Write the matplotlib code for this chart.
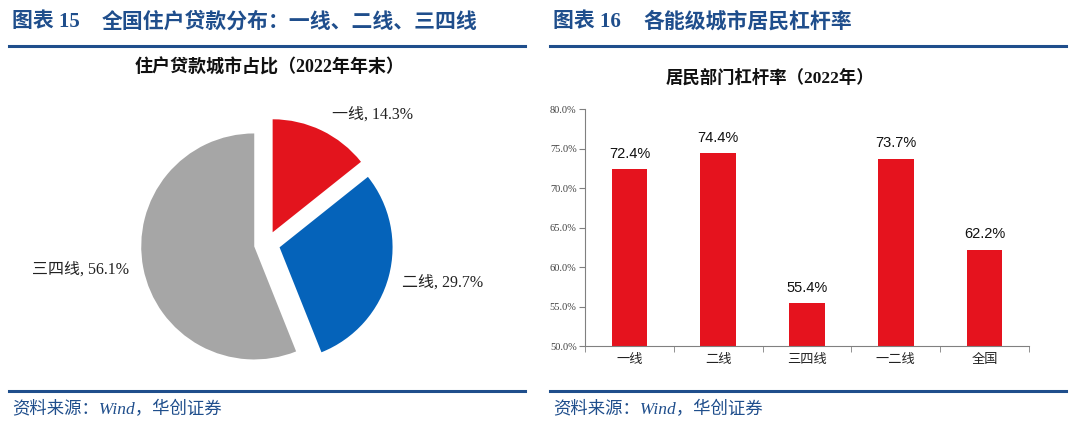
import numpy as np
import matplotlib.pyplot as plt

# pie: loan share by city tier (2022 year end)
pie_labels = ["一线", "二线", "三四线"]
pie_values = [14.3, 29.7, 56.1]
pie_colors = ["#E3141D", "#0563BA", "#A6A6A6"]

# bars: household leverage by tier
bar_cats = ["一线", "二线", "三四线", "一二线", "全国"]
bar_values = [72.4, 74.4, 55.4, 73.7, 62.2]
y_ticks = [50, 55, 60, 65, 70, 75, 80]

W, H = 1080, 430
NAVY = "#1F4E8C"
SERIF = ["Liberation Serif", "Noto Sans CJK SC"]
SANS = ["Liberation Sans", "Noto Sans CJK SC"]

fig = plt.figure(figsize=(W / 100, H / 100), dpi=100)


def fx(px):
    return px / W


def fy(py):
    return 1 - py / H


# headers, rules, source notes
for x0, x1, num, head in [(12, 525, "15", "全国住户贷款分布：一线、二线、三四线"),
                          (553, 1066, "16", "各能级城市居民杠杆率")]:
    fig.text(fx(x0), fy(22), f"图表 {num}", family=SERIF, fontsize=15, fontweight="bold",
             color=NAVY, va="center", ha="left")
    fig.text(fx(x0 + 90), fy(22), head, family=SERIF, fontsize=15, fontweight="bold",
             color=NAVY, va="center", ha="left")
    for yy in (46, 391):
        fig.add_artist(plt.Line2D([fx(x0 - 3), fx(x1)], [fy(yy), fy(yy)],
                                  color=NAVY, lw=2.2))
    fig.text(fx(x0), fy(410), "资料来源：Wind，华创证券", family=SERIF, fontsize=12.5,
             style="italic", color=NAVY, va="center", ha="left")

# ---- pie ----
cx, cy, r = 267, 244, 113
axp = fig.add_axes([fx(10), fy(380), (525 - 10) / W, (380 - 90) / H])
axp.pie(pie_values, colors=pie_colors, startangle=90, counterclock=False,
        explode=[0.115, 0.115, 0.115], radius=1.0,
        wedgeprops=dict(linewidth=0))
axp.set_xlim((10 - cx) / r, (525 - cx) / r)
axp.set_ylim((cy - 380) / r, (cy - 90) / r)
axp.set_aspect("auto")
axp.axis("off")

label_pos = [(373, 115), (443, 283), (80, 270)]
for (px, py), name, val in zip(label_pos, pie_labels, pie_values):
    axp.text((px - cx) / r, (cy - py) / r, f"{name}, {val}%", family=SERIF,
             fontsize=11.5, ha="center", va="center", color="#222222")

fig.text(fx(270), fy(67), "住户贷款城市占比（2022年年末）", family=SERIF, fontsize=13,
         fontweight="bold", ha="center", va="center", color="#111111")

# ---- bars ----
axb = fig.add_axes([fx(585), fy(346), (1029 - 585) / W, (346 - 109) / H])
x = np.arange(len(bar_cats))
axb.bar(x, bar_values, width=0.4, color="#E5131E")
axb.set_xlim(-0.5, len(bar_cats) - 0.5)
axb.set_ylim(50, 80)
axb.set_yticks(y_ticks)
axb.set_yticklabels([f"{v:.1f}%" for v in y_ticks], family=SERIF, fontsize=7.5,
                    color="#404040")
axb.set_xticks(x)
axb.set_xticklabels(bar_cats, family=SANS, fontsize=9.5, color="#222222")
axb.set_xticks(np.arange(len(bar_cats) + 1) - 0.5, minor=True)
axb.tick_params(axis="x", which="major", length=0, pad=6)
axb.tick_params(axis="x", which="minor", length=4, color="#808080")
axb.tick_params(axis="y", length=4, color="#808080", pad=2)
for s in ("top", "right"):
    axb.spines[s].set_visible(False)
for s in ("left", "bottom"):
    axb.spines[s].set_color("#808080")
    axb.spines[s].set_linewidth(0.8)
for xi, v in zip(x, bar_values):
    axb.annotate(f"{v}%", (xi, v), xytext=(0, 6), textcoords="offset points",
                 ha="center", va="bottom", family=SANS, fontsize=10.5, color="#111111")

fig.text(fx(770), fy(78), "居民部门杠杆率（2022年）", family=SERIF, fontsize=12.5,
         fontweight="bold", ha="center", va="center", color="#111111")

fig.savefig("out.png", dpi=100)
